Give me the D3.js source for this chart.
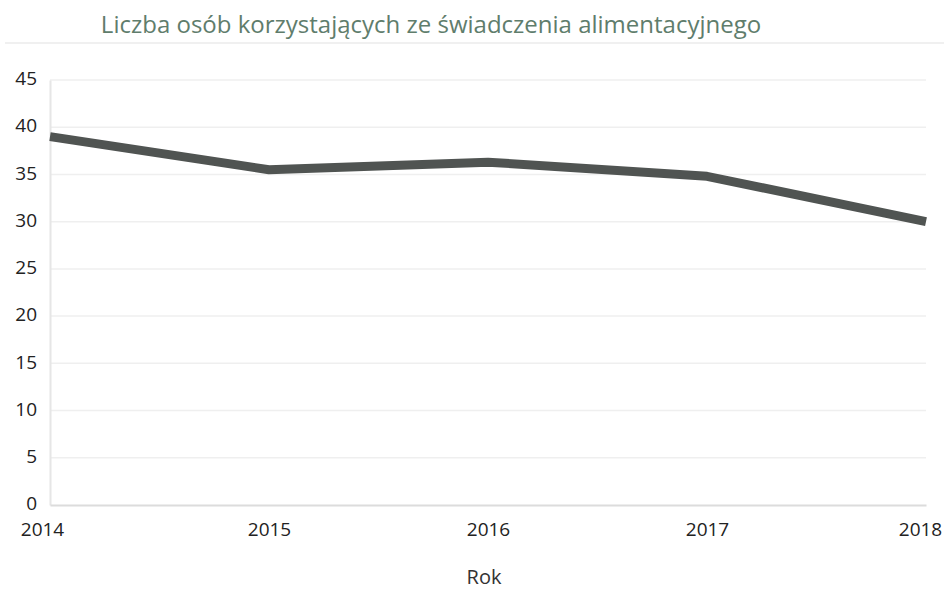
<!DOCTYPE html>
<html>
<head>
<meta charset="utf-8">
<script src="https://cdn.jsdelivr.net/npm/d3@7"></script>
<style>
  html, body { margin: 0; padding: 0; background: #fff; }
  svg { display: block; font-family: "Open Sans", "DejaVu Sans", sans-serif; }
</style>
</head>
<body>
<svg id="chart" width="949" height="590"></svg>
<script>
// Liczba osób korzystających ze świadczenia alimentacyjnego, 2014–2018
const years = ["2014", "2015", "2016", "2017", "2018"];
const counts = [39, 35.5, 36.3, 34.8, 30];
const yTicks = [0, 5, 10, 15, 20, 25, 30, 35, 40, 45];
const titleText = "Liczba osób korzystających ze świadczenia alimentacyjnego";
const xAxisTitle = "Rok";

const svg = d3.select("#chart");
const margin = { left: 50, right: 23, top: 80, bottom: 85 };
const W = 949, H = 590;

const x = d3.scalePoint().domain(years).range([margin.left, W - margin.right]);
const y = d3.scaleLinear().domain([0, 45]).range([H - margin.bottom, margin.top]);

// title and the thin rule beneath it
svg.append("text")
  .attr("x", 431).attr("y", 33)
  .attr("text-anchor", "middle")
  .attr("font-size", 24)
  .attr("fill", "#5f7d6c")
  .text(titleText);
svg.append("line")
  .attr("x1", 5).attr("x2", 944).attr("y1", 43).attr("y2", 43)
  .attr("stroke", "#f0f0f0").attr("stroke-width", 2);

// horizontal gridlines
svg.append("g")
  .selectAll("line")
  .data(yTicks.filter(d => d > 0))
  .join("line")
  .attr("x1", margin.left).attr("x2", W - margin.right)
  .attr("y1", d => y(d)).attr("y2", d => y(d))
  .attr("stroke", "#efefef").attr("stroke-width", 1.5);

// y axis
const yAxis = svg.append("g")
  .attr("transform", `translate(${margin.left},0)`)
  .call(d3.axisLeft(y).tickValues(yTicks).tickSize(0).tickPadding(13));
yAxis.select(".domain").attr("stroke", "#e6e6e6").attr("stroke-width", 2);
yAxis.selectAll("text").attr("font-size", 19).attr("fill", "#222")
  .attr("font-family", "'Open Sans', sans-serif").attr("dy", "0.25em");

// x axis
const xAxis = svg.append("g")
  .attr("transform", `translate(0,${H - margin.bottom})`)
  .call(d3.axisBottom(x).tickSize(0).tickPadding(18));
xAxis.select(".domain").attr("stroke", "#dcdcdc").attr("stroke-width", 2);
xAxis.selectAll("text").attr("font-size", 19).attr("fill", "#222")
  .attr("font-family", "'Open Sans', sans-serif");
xAxis.selectAll(".tick text").attr("dx", (d, i) => i === 0 ? -8 : (i === years.length - 1 ? -6 : 0));

svg.append("text")
  .attr("x", 484).attr("y", 584)
  .attr("text-anchor", "middle")
  .attr("font-size", 20).attr("fill", "#333")
  .text(xAxisTitle);

// data line
const line = d3.line().x((d, i) => x(years[i])).y(d => y(d));
svg.append("path")
  .datum(counts)
  .attr("d", line)
  .attr("fill", "none")
  .attr("stroke", "#505452")
  .attr("stroke-width", 9)
  .attr("stroke-linejoin", "round");
</script>
</body>
</html>
